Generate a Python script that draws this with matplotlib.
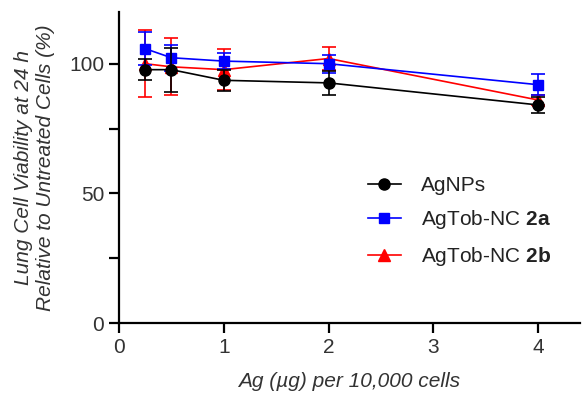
import numpy as np
import matplotlib.pyplot as plt
from matplotlib.lines import Line2D

plt.rcParams['font.family'] = ['Liberation Sans', 'DejaVu Sans']
plt.rcParams['mathtext.fontset'] = 'custom'
plt.rcParams['mathtext.rm'] = 'Liberation Sans'
plt.rcParams['mathtext.bf'] = 'Liberation Sans:bold'

x = [0.25, 0.5, 1, 2, 4]

agnps = [97.7, 97.7, 93.6, 92.6, 84.1]
agnps_err = [4.0, 8.5, 4.0, 4.5, 3.0]

nc2a = [105.8, 102.3, 101.0, 100.0, 91.9]
nc2a_err = [6.3, 5.0, 3.0, 3.5, 4.0]

nc2b = [100.0, 98.8, 97.7, 102.0, 86.0]
nc2b_err = [13.0, 11.0, 8.0, 4.5, 2.0]

fs = 15
fig, ax = plt.subplots(figsize=(5.83, 3.94), dpi=100)
fig.subplots_adjust(left=0.204, right=0.995, bottom=0.18, top=0.97)

ax.errorbar(x, nc2b, yerr=nc2b_err, color='red', marker='^', markersize=8,
            lw=1.2, capsize=5, elinewidth=1.2, capthick=1.2, zorder=2)
ax.errorbar(x, nc2a, yerr=nc2a_err, color='blue', marker='s', markersize=7.5,
            lw=1.2, capsize=5, elinewidth=1.2, capthick=1.2, zorder=3)
ax.errorbar(x, agnps, yerr=agnps_err, color='black', marker='o', markersize=8,
            lw=1.2, capsize=5, elinewidth=1.2, capthick=1.2, zorder=4)

ax.set_xlim(0, 4.4)
ax.set_ylim(0, 120)
ax.set_xticks([0, 1, 2, 3, 4])
ax.set_yticks([0, 50, 100])
ax.set_yticks([25, 75], minor=True)
ax.spines['top'].set_visible(False)
ax.spines['right'].set_visible(False)
for s in ('left', 'bottom'):
    ax.spines[s].set_linewidth(1.6)
ax.tick_params(axis='both', which='major', length=7.5, width=1.6, labelsize=fs,
               labelcolor='#333333', pad=3)
ax.tick_params(axis='y', which='minor', length=7.5, width=1.6)

ax.set_xlabel('Ag (µg) per 10,000 cells', fontsize=fs, style='italic', color='#333333',
              labelpad=11)
ax.set_ylabel('Lung Cell Viability at 24 h\nRelative to Untreated Cells (%)',
              fontsize=fs, style='italic', color='#333333', linespacing=1.2, labelpad=10)

handles = [
    Line2D([], [], color='black', marker='o', markersize=8, lw=1.2),
    Line2D([], [], color='blue', marker='s', markersize=7.5, lw=1.2),
    Line2D([], [], color='red', marker='^', markersize=8, lw=1.2),
]
labels = ['AgNPs', r'AgTob-NC $\mathbf{2a}$', r'AgTob-NC $\mathbf{2b}$']
leg = ax.legend(handles, labels, loc='center left', bbox_to_anchor=(0.50, 0.325),
                frameon=False, fontsize=fs, labelspacing=0.65,
                handlelength=1.55, handletextpad=1.0)
for t in leg.get_texts():
    t.set_color('#222222')

plt.savefig('out.png')
